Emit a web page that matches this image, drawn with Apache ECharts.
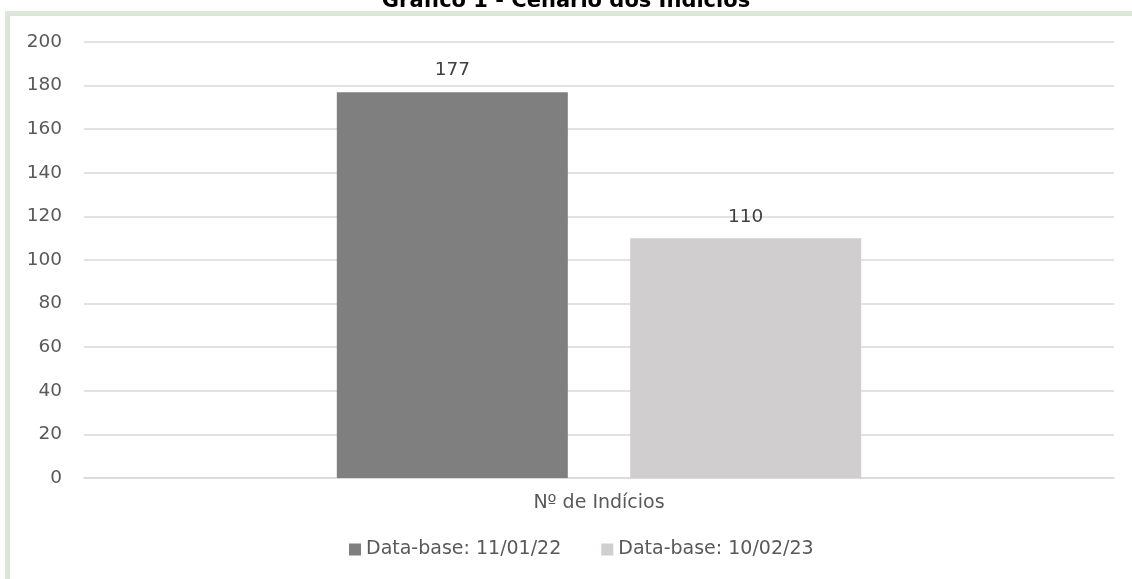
<!DOCTYPE html>
<html><head><meta charset="utf-8">
<script src="https://cdn.jsdelivr.net/npm/echarts@6/dist/echarts.min.js"></script>
<style>html,body{margin:0;padding:0;background:#fff}#c{width:1132px;height:579px}</style>
</head><body><div id="c"></div>
<script>
const categories = ['Nº de Indícios'];
const seriesNames = ['Data-base: 11/01/22', 'Data-base: 10/02/23'];
const values1 = [177];
const values2 = [110];
const yTicks = [0, 20, 40, 60, 80, 100, 120, 140, 160, 180, 200];

const font = '"DejaVu Sans", sans-serif';
const chart = echarts.init(document.getElementById('c'));
chart.setOption({
  backgroundColor: '#fff',
  animation: false,
  title: {
    text: 'Gráfico 1 - Cenário dos Indícios',
    left: 'center', top: -14,
    textStyle: { fontFamily: font, fontSize: 21, fontWeight: 'bold', color: '#000' }
  },
  graphic: [
    { type: 'rect', shape: { x: 5, y: 11, width: 1127, height: 3 }, style: { fill: '#d9ead3' } },
    { type: 'rect', shape: { x: 5, y: 14, width: 1127, height: 2 }, style: { fill: '#e0e0e0' } },
    { type: 'rect', shape: { x: 5, y: 11, width: 3, height: 568 }, style: { fill: '#d9ead3' } },
    { type: 'rect', shape: { x: 8, y: 14, width: 2, height: 565 }, style: { fill: '#e0e0e0' } }
  ],
  grid: { left: 84, right: 18, top: 42, bottom: 101, containLabel: false },
  legend: {
    bottom: 15, left: 344, itemGap: 40,
    itemWidth: 12, itemHeight: 12, icon: 'rect',
    textStyle: { fontFamily: font, fontSize: 19, color: '#595959' },
    data: seriesNames
  },
  xAxis: {
    type: 'category', data: categories,
    axisLine: { lineStyle: { color: '#d9d9d9', width: 1.5 } },
    axisTick: { show: false },
    axisLabel: { fontFamily: font, fontSize: 19, color: '#595959', margin: 16 }
  },
  yAxis: {
    type: 'value', min: yTicks[0], max: yTicks[yTicks.length - 1], interval: 20,
    axisLine: { show: false }, axisTick: { show: false },
    splitLine: { lineStyle: { color: '#d9d9d9', width: 1.5 } },
    axisLabel: { fontFamily: font, fontSize: 18.5, color: '#595959', margin: 22 }
  },
  series: [
    { name: seriesNames[0], type: 'bar', data: values1, barWidth: 231, barGap: '27%',
      itemStyle: { color: '#7f7f7f' },
      label: { show: true, position: 'top', distance: 12, fontFamily: font, fontSize: 18.5, color: '#404040' } },
    { name: seriesNames[1], type: 'bar', data: values2, barWidth: 231,
      itemStyle: { color: '#d0cece' },
      label: { show: true, position: 'top', distance: 12, fontFamily: font, fontSize: 18.5, color: '#404040' } }
  ]
});
</script></body></html>
